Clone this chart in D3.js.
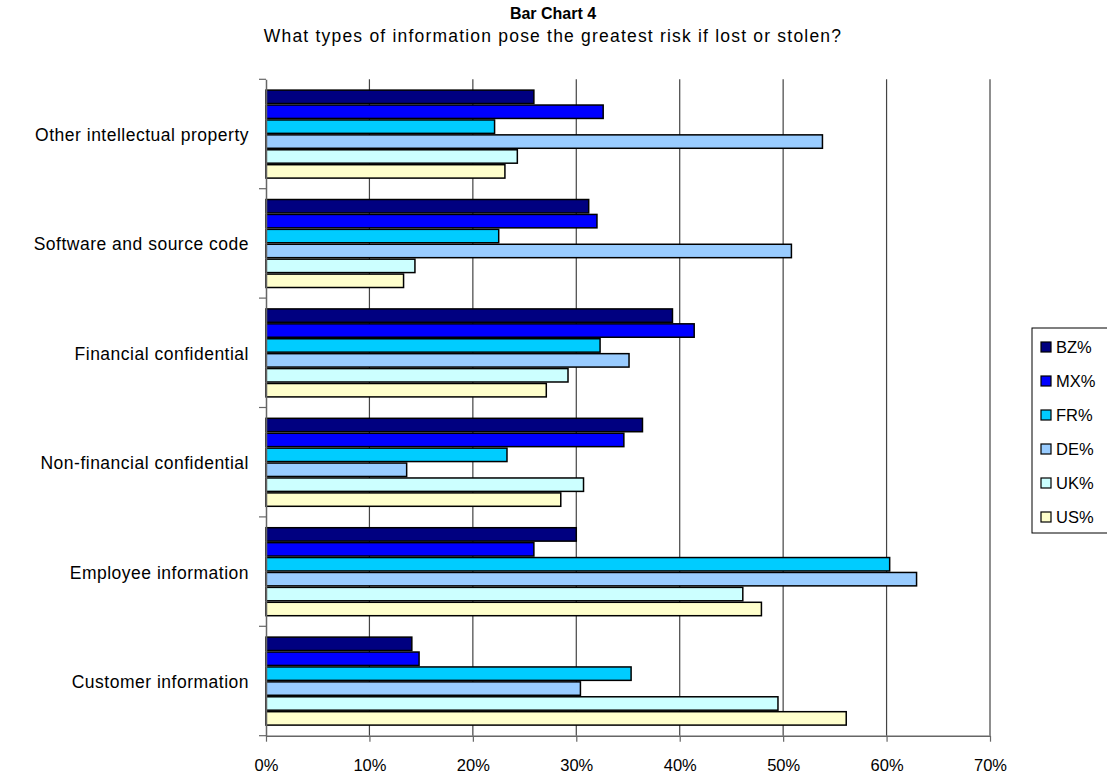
<!DOCTYPE html>
<html><head><meta charset="utf-8">
<script src="https://cdn.jsdelivr.net/npm/d3@7"></script>
<style>body{margin:0;background:#fff}svg{display:block;font-family:"Liberation Sans",Arial,sans-serif}</style>
</head><body><div id="chart"></div>
<script>
const categories = ["Other intellectual property","Software and source code","Financial confidential","Non-financial confidential","Employee information","Customer information"];
const seriesNames = ["BZ%","MX%","FR%","DE%","UK%","US%"];
const seriesColors = ["#000080","#0000FF","#00CCFF","#99CCFF","#CCFFFF","#FFFFCC"];
const BZ = [25.9,31.2,39.3,36.4,30.0,14.1];
const MX = [32.6,32.0,41.4,34.6,25.9,14.8];
const FR = [22.1,22.5,32.3,23.3,60.3,35.3];
const DE = [53.8,50.8,35.1,13.6,62.9,30.4];
const UK = [24.3,14.4,29.2,30.7,46.1,49.5];
const US = [23.1,13.3,27.1,28.5,47.9,56.1];
const seriesValues = [BZ,MX,FR,DE,UK,US];
const xTicks = [0,10,20,30,40,50,60,70];

(function(){
const W=1107,H=778;
const svg=d3.select("#chart").append("svg").attr("width",W).attr("height",H);
const pLeft=266,pRight=990,pTop=79.3,pBottom=735.7;
const x=d3.scaleLinear().domain([0,70]).range([pLeft,pRight]);
const y=d3.scaleBand().domain(categories).range([pTop,pBottom]).paddingInner(0).paddingOuter(0);
const yi=d3.scaleBand().domain(seriesNames).range([y.bandwidth()*0.092,y.bandwidth()*0.91]);

svg.append("text").attr("x",553).attr("y",19).attr("text-anchor","middle").attr("font-weight","bold").attr("font-size",16).text("Bar Chart 4");
svg.append("text").attr("x",553).attr("y",42).attr("text-anchor","middle").attr("font-size",17.5).attr("letter-spacing",1.2).text("What types of information pose the greatest risk if lost or stolen?");

svg.append("g").selectAll("line").data(xTicks.slice(1)).join("line")
 .attr("x1",d=>x(d)).attr("x2",d=>x(d)).attr("y1",pTop).attr("y2",pBottom)
 .attr("stroke","#444").attr("stroke-width",1.2);

const g=svg.append("g");
categories.forEach((c,ci)=>{
  seriesNames.forEach((s,si)=>{
    g.append("rect").attr("x",x(0)).attr("y",y(c)+yi(s)+0.75)
     .attr("width",x(seriesValues[si][ci])-x(0)).attr("height",yi.bandwidth()-1.5)
     .attr("fill",seriesColors[si]).attr("stroke","#000").attr("stroke-width",1.5);
  });
});

const xa=svg.append("g").attr("transform",`translate(0,${pBottom})`)
 .call(d3.axisBottom(x).tickValues(xTicks).tickFormat(d=>d+"%").tickSize(6).tickSizeOuter(0));
xa.select(".domain").attr("stroke","#666").attr("stroke-width",1.5);
xa.selectAll(".tick line").attr("stroke","#666").attr("stroke-width",1.2);
xa.selectAll(".tick text").attr("font-size",16.5).attr("fill","#000").attr("dy","1.6em").attr("font-family","Liberation Sans, Arial, sans-serif");

const ya=svg.append("g").attr("transform",`translate(${pLeft},0)`)
 .call(d3.axisLeft(y).tickSize(0).tickPadding(17));
ya.select(".domain").attr("stroke","#666").attr("stroke-width",1.5);
ya.selectAll(".tick text").attr("font-size",17.5).attr("letter-spacing",0.5).attr("dy","0.4em").attr("fill","#000").attr("font-family","Liberation Sans, Arial, sans-serif");
const boundaries=categories.map(c=>y(c)).concat([pBottom]);
svg.append("g").selectAll("line").data(boundaries).join("line")
 .attr("x1",pLeft-7).attr("x2",pLeft).attr("y1",d=>d).attr("y2",d=>d)
 .attr("stroke","#666").attr("stroke-width",1.2);

const lg=svg.append("g");
lg.append("rect").attr("x",1032).attr("y",328).attr("width",90).attr("height",205).attr("fill","#fff").attr("stroke","#000").attr("stroke-width",1);
seriesNames.forEach((s,i)=>{
  const cy=347+i*34;
  lg.append("rect").attr("x",1041).attr("y",cy-5).attr("width",10).attr("height",10).attr("fill",seriesColors[i]).attr("stroke","#000").attr("stroke-width",1.2);
  lg.append("text").attr("x",1056).attr("y",cy).attr("dy","0.36em").attr("font-size",16.5).text(s);
});
})();
</script></body></html>
